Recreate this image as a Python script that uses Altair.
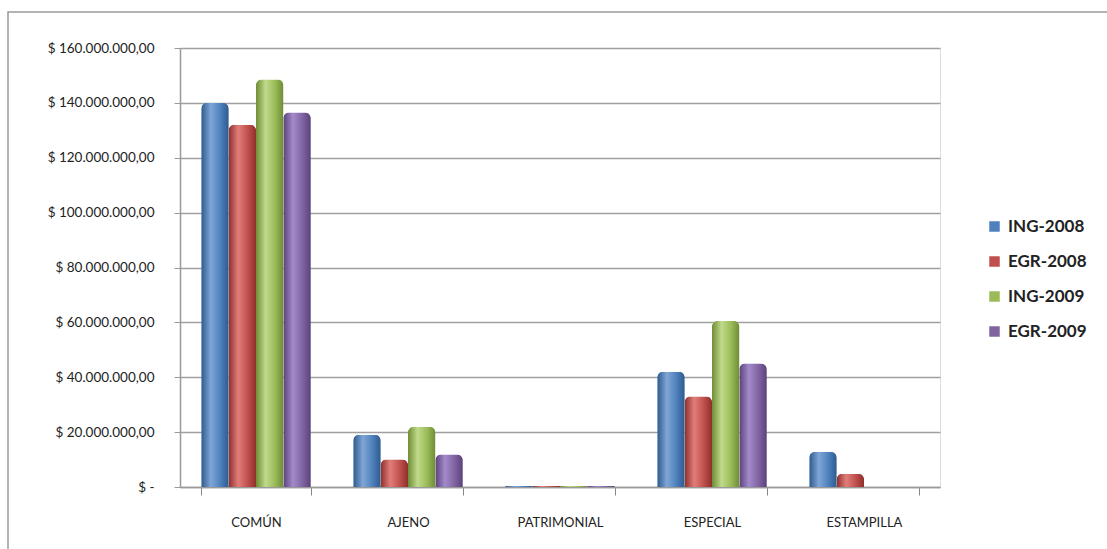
import altair as alt
import pandas as pd

categories = ["COMÚN", "AJENO", "PATRIMONIAL", "ESPECIAL", "ESTAMPILLA"]
series = ["ING-2008", "EGR-2008", "ING-2009", "EGR-2009"]
ing_2008 = [140_000_000, 19_000_000, 400_000, 42_000_000, 12_800_000]
egr_2008 = [132_000_000, 10_000_000, 400_000, 33_000_000, 4_800_000]
ing_2009 = [148_500_000, 22_000_000, 400_000, 60_500_000, 0]
egr_2009 = [136_500_000, 11_800_000, 400_000, 45_000_000, 0]
y_ticks = [0, 20_000_000, 40_000_000, 60_000_000, 80_000_000,
           100_000_000, 120_000_000, 140_000_000, 160_000_000]
colors = ["#4F81BD", "#C0504D", "#9BBB59", "#8064A2"]
dark = ["#2E5A8E", "#8E2F2C", "#6E8C35", "#5A437A"]
light = ["#7FA6D6", "#E07E7A", "#C0DA8A", "#A48ACB"]

rows = []
for s, vals in zip(series, [ing_2008, egr_2008, ing_2009, egr_2009]):
    for c, v in zip(categories, vals):
        rows.append({"category": c, "series": s, "value": v})
df = pd.DataFrame(rows)

W, H = 760, 439
LEFT, TOP = 180, 48
RIGHT, BOTTOM = 1107 - LEFT - W, 549 - TOP - H

x_enc = alt.X("category:N", sort=categories,
              scale=alt.Scale(paddingInner=0.28, paddingOuter=0.14),
              axis=alt.Axis(title=None, labelAngle=0, tickBand="extent",
                            labelFont="Lato", labelFontSize=13, labelColor="#222222",
                            labelPadding=21, tickSize=8, tickColor="#888888",
                            domainColor="#999999", domainWidth=1.5))
xoff_enc = alt.XOffset("series:N", sort=series,
                       scale=alt.Scale(domain=series, paddingInner=0, paddingOuter=0))
y_enc = alt.Y("value:Q", scale=alt.Scale(domain=[0, 160_000_000], nice=False),
              axis=alt.Axis(title=None, values=y_ticks,
                            labelExpr="datum.value == 0 ? '$ -' : '$ ' + format(datum.value / 1000000, 'd') + '.000.000,00'",
                            labelFont="Lato", labelFontSize=13.5, labelColor="#222222",
                            labelPadding=20, tickSize=6, tickColor="#999999",
                            domainColor="#999999", domainWidth=1.5,
                            grid=True, gridColor="#A0A0A0", gridWidth=1.5))

base = alt.Chart(df).mark_bar(cornerRadiusTopLeft=6, cornerRadiusTopRight=6).encode(
    x=x_enc, xOffset=xoff_enc, y=y_enc,
    color=alt.Color("series:N", sort=series,
                    scale=alt.Scale(domain=series, range=colors),
                    legend=alt.Legend(title=None, orient="none",
                                      legendX=806, legendY=170,
                                      symbolType="square", symbolSize=110,
                                      symbolStrokeWidth=0,
                                      labelFont="Lato", labelFontSize=17,
                                      labelFontWeight="bold",
                                      labelColor="#222222", rowPadding=17,
                                      labelOffset=5)),
)

layers = [base]
for s, d, l, c in zip(series, dark, light, colors):
    grad = {"gradient": "linear", "x1": 0, "x2": 1, "y1": 0, "y2": 0,
            "stops": [{"offset": 0, "color": d},
                      {"offset": 0.35, "color": l},
                      {"offset": 0.7, "color": c},
                      {"offset": 1, "color": d}]}
    layers.append(
        alt.Chart(df).transform_filter(alt.datum.series == s)
        .mark_bar(cornerRadiusTopLeft=6, cornerRadiusTopRight=6)
        .encode(x=alt.X("category:N", sort=categories), xOffset=alt.XOffset("series:N", sort=series),
                y=alt.Y("value:Q"), color=alt.value(grad))
    )

border = alt.Chart(pd.DataFrame({"a": [0]})).mark_rect(
    fill=None, stroke="#9A9A9A", strokeWidth=1.5, clip=False
).encode(x=alt.value(8 - LEFT), x2=alt.value(1200), y=alt.value(12 - TOP), y2=alt.value(700))

chart = alt.layer(border, *layers).properties(
    width=W, height=H,
    autosize=alt.AutoSizeParams(type="none"),
    padding={"left": LEFT, "top": TOP, "right": RIGHT, "bottom": BOTTOM},
).configure_view(stroke=None).configure(background="white")

chart.save("out.html", embed_options={"renderer": "svg", "actions": False})
